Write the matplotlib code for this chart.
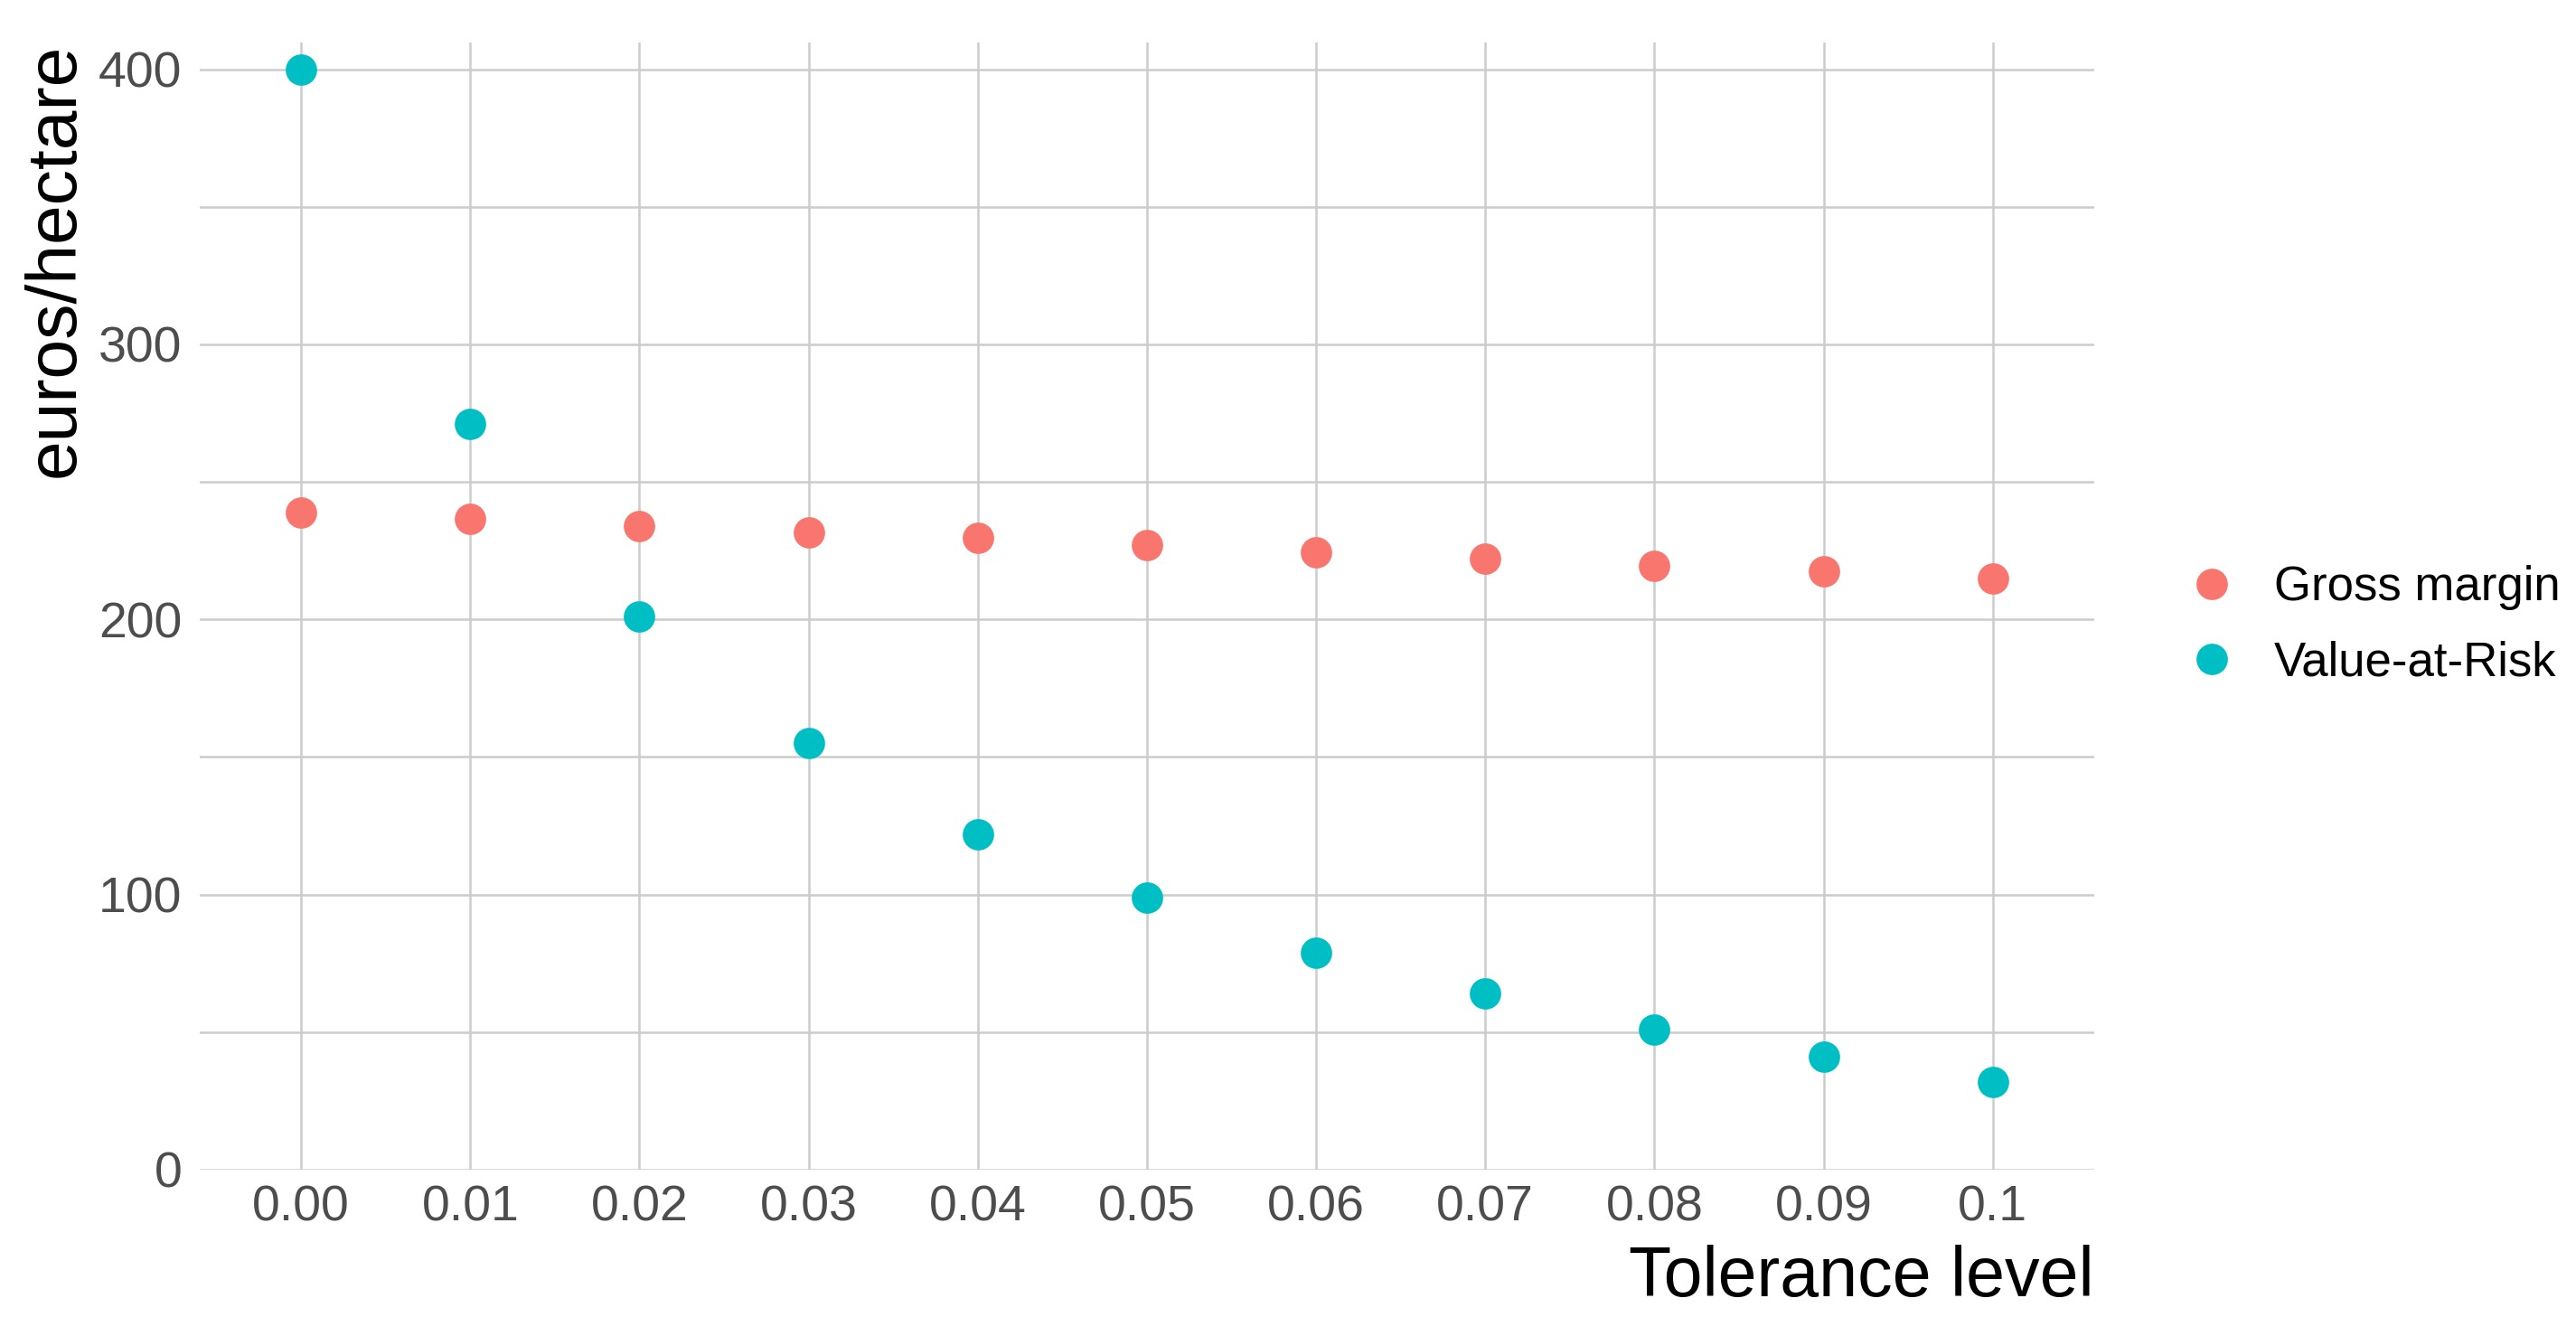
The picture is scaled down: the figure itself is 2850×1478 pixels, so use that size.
import numpy as np
import matplotlib
matplotlib.use('Agg')
import matplotlib.pyplot as plt
from matplotlib.lines import Line2D

plt.rcParams['font.family'] = ['Liberation Sans', 'DejaVu Sans']

# data
tolerance = ['0.00', '0.01', '0.02', '0.03', '0.04', '0.05',
             '0.06', '0.07', '0.08', '0.09', '0.1']
gross_margin = [239, 236.5, 234, 231.5, 229.5, 227, 224.5, 222, 219.5, 217.5, 215]
value_at_risk = [400, 271, 201, 155, 122, 99, 79, 64, 51, 41, 32]

col_gm = '#F8766D'
col_var = '#00BFC4'
grid_col = '#CCCCCC'

fig = plt.figure(figsize=(28.5, 14.78), dpi=100)
ax = fig.add_axes([0.0775, 0.1245, 0.813 - 0.0775, 0.968 - 0.1245])

xpos = np.arange(len(tolerance))

# grid
for y in np.arange(0, 401, 50):
    ax.axhline(y, color=grid_col, lw=1.8, zorder=1)
for x in xpos:
    ax.axvline(x, color=grid_col, lw=1.8, zorder=1)

ax.plot(xpos, gross_margin, 'o', ms=25, color=col_gm, mew=0, zorder=3, clip_on=False)
ax.plot(xpos, value_at_risk, 'o', ms=25, color=col_var, mew=0, zorder=3, clip_on=False)

ax.set_xlim(-0.6, len(tolerance) - 0.4)
ax.set_ylim(0, 409.6)
ax.set_xticks(xpos)
ax.set_xticklabels(tolerance)
ax.set_yticks([0, 100, 200, 300, 400])
ax.tick_params(axis='both', length=0, labelsize=40, labelcolor='#4D4D4D')
ax.tick_params(axis='x', pad=12)
ax.tick_params(axis='y', pad=14)
for s in ax.spines.values():
    s.set_visible(False)

ax.set_xlabel('Tolerance level', fontsize=55.5, loc='right', labelpad=10)
ax.set_ylabel('euros/hectare', fontsize=56.5, loc='top', labelpad=8)

handles = [Line2D([], [], ls='', marker='o', ms=25, mew=0, color=col_gm),
           Line2D([], [], ls='', marker='o', ms=25, mew=0, color=col_var)]
fig.legend(handles, ['Gross margin', 'Value-at-Risk'], loc='center left',
           bbox_to_anchor=(0.8495, 0.532), frameon=False, fontsize=38,
           handlelength=1.0, handletextpad=0.8, labelspacing=0.62, borderpad=0,
           borderaxespad=0)

fig.savefig('out.png', dpi=100)
